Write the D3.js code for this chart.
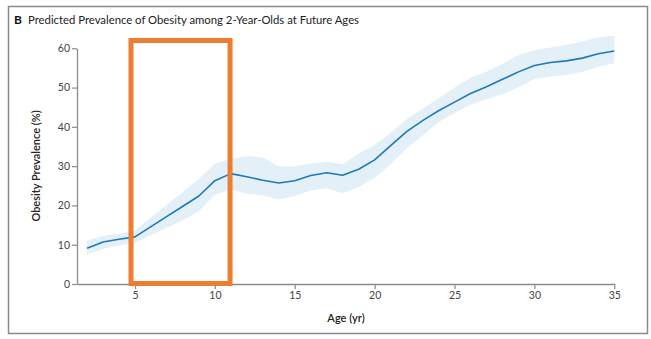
<!DOCTYPE html>
<html><head><meta charset="utf-8">
<script src="https://cdn.jsdelivr.net/npm/d3@7"></script>
<style>html,body{margin:0;padding:0;background:#fff;}svg{display:block;}</style>
</head><body>
<svg id="c" width="651" height="339"></svg>
<script>
const ages = [2,3,4,5,6,7,8,9,10,11,12,13,14,15,16,17,18,19,20,21,22,23,24,25,26,27,28,29,30,31,32,33,34,35];
const prevalence = [9.1,10.7,11.4,12.0,14.6,17.2,19.8,22.4,26.3,28.1,27.3,26.4,25.7,26.3,27.6,28.3,27.7,29.2,31.6,35.2,38.8,41.6,44.1,46.3,48.5,50.2,52.1,54.0,55.6,56.4,56.8,57.5,58.6,59.3];
const upper = [11.0,12.3,12.8,13.6,17.0,20.2,23.5,26.8,30.7,31.8,32.6,32.2,30.0,29.9,30.7,31.1,30.5,33.2,35.4,38.5,42.0,44.6,47.3,50.0,52.5,54.1,56.0,58.3,59.5,60.2,60.9,61.7,62.8,63.2];
const lower = [7.5,9.0,9.8,10.5,12.5,14.3,16.3,18.5,22.7,24.0,23.0,22.6,21.5,22.4,23.8,24.4,23.1,24.6,27.0,30.5,34.5,37.8,41.2,43.5,45.6,47.0,48.3,50.1,52.2,52.8,53.2,54.0,55.3,56.2];
const xTicks = [5,10,15,20,25,30,35];
const yTicks = [0,10,20,30,40,50,60];
const highlightAges = [4.75, 10.95];
const panelLetter = "B";
const title = "Predicted Prevalence of Obesity among 2-Year-Olds at Future Ages";
const xTitle = "Age (yr)";
const yTitle = "Obesity Prevalence (%)";

const svg = d3.select("#c");
const font = "Lato, 'Open Sans', sans-serif";

svg.append("rect").attr("x",8.5).attr("y",6.5).attr("width",639).attr("height",327)
  .attr("fill","none").attr("stroke","#8a8a8a").attr("stroke-width",1.5);

const x = d3.scaleLinear().domain([1.37,35]).range([77,614.3]);
const y = d3.scaleLinear().domain([0,60]).range([284,48.3]);

const data = ages.map((a,i)=>({a, v:prevalence[i], hi:upper[i], lo:lower[i]}));

svg.append("path").datum(data)
  .attr("d", d3.area().x(d=>x(d.a)).y0(d=>y(d.lo)).y1(d=>y(d.hi)))
  .attr("fill","#e4f0f8");
svg.append("path").datum(data)
  .attr("d", d3.line().x(d=>x(d.a)).y(d=>y(d.v)))
  .attr("fill","none").attr("stroke","#1f78b8").attr("stroke-width",1.6).attr("stroke-linejoin","round");

const axCol = "#8c8c8c";
const gx = svg.append("g").attr("transform",`translate(0,${y(0)})`)
  .call(d3.axisBottom(x).tickValues(xTicks).tickSize(5).tickSizeOuter(0).tickPadding(3));
const gy = svg.append("g").attr("transform",`translate(${x.range()[0]},0)`)
  .call(d3.axisLeft(y).tickValues(yTicks).tickSize(5).tickSizeOuter(0).tickPadding(2));
[gx,gy].forEach(g=>{
  g.select(".domain").attr("stroke",axCol).attr("stroke-width",1.3);
  g.selectAll(".tick line").attr("stroke",axCol).attr("stroke-width",1.2);
  g.selectAll(".tick text").attr("fill","#444").style("font-family",font).style("font-size","10.5px");
});

// orange highlight annotation
svg.append("rect").attr("x",x(highlightAges[0])).attr("y",40.5)
  .attr("width",x(highlightAges[1])-x(highlightAges[0])).attr("height",283.5-40.5)
  .attr("fill","none").attr("stroke","#ed7d31").attr("stroke-width",5);

svg.append("text").attr("x",14).attr("y",24).text(panelLetter)
  .style("font-family",font).style("font-weight","bold").style("font-size","12px").attr("fill","#111");
svg.append("text").attr("x",28).attr("y",23.5).text(title)
  .style("font-family",font).style("font-size","11px").attr("fill","#222")
  .attr("textLength",331).attr("lengthAdjust","spacingAndGlyphs");

svg.append("text").attr("x",346).attr("y",322).attr("text-anchor","middle").text(xTitle)
  .style("font-family",font).style("font-size","11px").style("font-weight","600").attr("fill","#222");
svg.append("text").attr("transform","translate(40,166) rotate(-90)").attr("text-anchor","middle").text(yTitle)
  .style("font-family",font).style("font-size","11px").style("font-weight","600").attr("fill","#222");
</script>
</body></html>
